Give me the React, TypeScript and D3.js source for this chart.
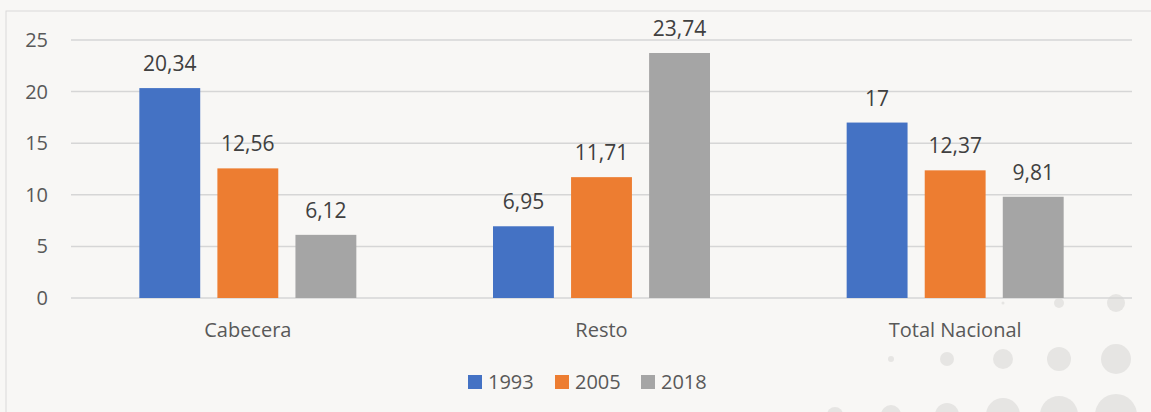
import React from "react";
import * as d3 from "d3";

const categories = ["Cabecera", "Resto", "Total Nacional"];
const years = ["1993", "2005", "2018"];
const values1993 = [20.34, 6.95, 17];
const values2005 = [12.56, 11.71, 12.37];
const values2018 = [6.12, 23.74, 9.81];
const yTicks = [0, 5, 10, 15, 20, 25];
const colors = ["#4472C4", "#ED7D31", "#A5A5A5"];

// decorative dot pattern (bottom right): [col, row, radius]
const dotCols = [835, 891, 947, 1003, 1059, 1116];
const dotRows = [303, 359, 415];
const dotRadii = [
  [0, 0, 0, 1.5, 5, 9],
  [0, 3, 7, 10, 12, 15],
  [8, 10, 12, 17, 19, 21],
];

const W = 1151, H = 412;
const margin = { top: 40, left: 71, right: 19, bottom: 114 };
const font = "'Open Sans', sans-serif";
const textColor = "#595959";

export default function App() {
  const series = [values1993, values2005, values2018];
  const x0 = d3.scaleBand().domain(categories).range([margin.left, W - margin.right]).paddingInner(0).paddingOuter(0);
  const x1 = d3.scaleBand().domain(years).range([0, 217]).paddingInner(0.22).paddingOuter(0);
  const y = d3.scaleLinear().domain([0, 25]).range([H - margin.bottom, margin.top]);
  const groupOffset = (x0.bandwidth() - 217) / 2;

  const fmt = (v: number) => String(v).replace(".", ",");

  return (
    <svg width={W} height={H} style={{ position: "absolute", left: 0, top: 0, background: "#F8F7F5" }}>
      <rect x={6} y={11} width={W} height={H} fill="#F8F7F5" stroke="#D9D9D9" strokeWidth={1} />
      {dotRows.map((cy, ri) =>
        dotCols.map((cx, ci) =>
          dotRadii[ri][ci] > 0 ? (
            <circle key={`d${ri}-${ci}`} cx={cx} cy={cy} r={dotRadii[ri][ci]} fill="#E6E5E3" />
          ) : null
        )
      )}
      {yTicks.map((t) => (
        <g key={t}>
          <line x1={margin.left} x2={W - margin.right} y1={y(t)} y2={y(t)} stroke="#D6D6D6" strokeWidth={1.5} />
          <text x={48} y={y(t)} dy="0.35em" textAnchor="end" fontFamily={font} fontSize={20} fill={textColor}>
            {t}
          </text>
        </g>
      ))}
      {categories.map((c, ci) => (
        <g key={c} transform={`translate(${(x0(c) as number) + groupOffset},0)`}>
          {years.map((yr, si) => {
            const v = series[si][ci];
            const bx = x1(yr) as number;
            return (
              <g key={yr}>
                <rect x={bx} y={y(v)} width={x1.bandwidth()} height={y(0) - y(v)} fill={colors[si]} />
                <text x={bx + x1.bandwidth() / 2} y={y(v) - 17} textAnchor="middle" fontFamily={font} fontSize={21} fill="#404040">
                  {fmt(v)}
                </text>
              </g>
            );
          })}
          <text x={108.5} y={337} textAnchor="middle" fontFamily={font} fontSize={20} fill={textColor}>
            {c}
          </text>
        </g>
      ))}
      {years.map((yr, i) => {
        const lx = [468, 555, 641][i];
        return (
          <g key={yr}>
            <rect x={lx} y={375} width={14} height={14} fill={colors[i]} />
            <text x={lx + 20} y={389} fontFamily={font} fontSize={20} fill={textColor}>
              {yr}
            </text>
          </g>
        );
      })}
    </svg>
  );
}
